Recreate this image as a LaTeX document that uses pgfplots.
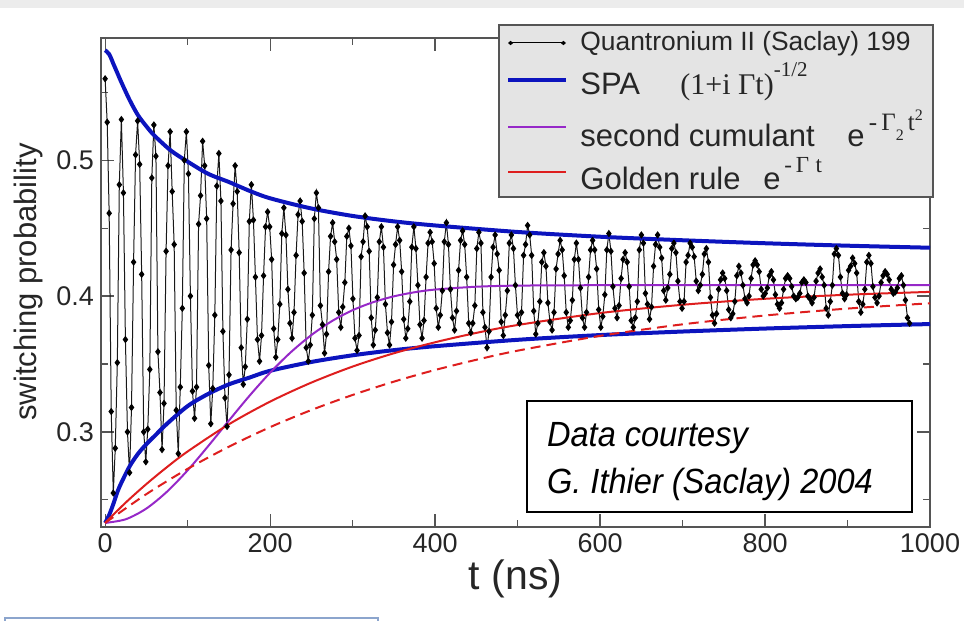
\documentclass[border=0pt]{standalone}
\usepackage{fontspec}
\setmainfont{Liberation Sans}
\newfontfamily\serifL{Liberation Serif}
\newfontfamily\narrowit[FakeStretch=0.93]{Liberation Sans}
\usepackage{pgfplots}
\pgfplotsset{compat=1.18}
\usetikzlibrary{arrows.meta}
\definecolor{spablue}{RGB}{12,20,190}
\definecolor{cumpurple}{RGB}{150,40,200}
\definecolor{grred}{RGB}{222,30,30}
\definecolor{axgray}{RGB}{85,85,85}
\definecolor{leggray}{RGB}{228,228,228}
\definecolor{topgray}{RGB}{236,236,236}
\definecolor{frameblue}{RGB}{140,165,205}
\begin{document}
\begin{tikzpicture}
\useasboundingbox (0,0) rectangle (482pt,310.5pt);
\fill[topgray] (0,306.5pt) rectangle (482pt,310.5pt);
\begin{axis}[
  at={(50.5pt,47pt)}, anchor=south west,
  scale only axis, width=414.5pt, height=244.5pt,
  xmin=-5, xmax=1000, ymin=0.23, ymax=0.59,
  xtick={0,200,400,600,800,1000}, minor xtick={100,300,500,700,900},
  ytick={0.3,0.4,0.5}, minor ytick={0.25,0.35,0.45,0.55},
  axis line style={axgray, line width=0.7pt},
  tick style={axgray, line width=0.6pt},
  major tick length=6.5pt, minor tick length=3.5pt,
  tick align=inside,
  /pgf/number format/assume math mode=true,
  /pgf/number format/1000 sep={},
  ticklabel style={font=\fontsize{13.5}{15}\selectfont, text=black!85},
  every axis y label/.style={at={(axis description cs:-0.0784,0.501)}, rotate=90, anchor=base, font=\fontsize{15.5}{18}\selectfont, text=black!85},
  every axis x label/.style={at={(axis description cs:0.5,-0.1288)}, anchor=base, font=\fontsize{20.5}{24}\selectfont, text=black!85},
  xlabel={t (ns)}, ylabel={switching probability},
]
\addplot[black!90, line width=0.5pt, mark=diamond*, mark size=1.45pt, mark options={solid, fill=black, draw=black}] table {
t p
0.0 0.560
2.5 0.528
4.9 0.461
7.4 0.315
9.9 0.255
12.3 0.288
14.8 0.351
17.2 0.482
19.7 0.530
22.2 0.476
24.6 0.368
27.1 0.300
29.6 0.270
32.0 0.318
34.5 0.425
36.9 0.504
39.4 0.529
41.9 0.497
44.3 0.416
46.8 0.300
49.3 0.278
51.7 0.302
54.2 0.346
56.6 0.487
59.1 0.526
61.6 0.503
64.0 0.359
66.5 0.329
69.0 0.287
71.4 0.321
73.9 0.433
76.3 0.496
78.8 0.521
81.3 0.477
83.7 0.438
86.2 0.316
88.7 0.284
91.1 0.333
93.6 0.391
96.0 0.500
98.5 0.521
101.0 0.490
103.4 0.400
105.9 0.330
108.4 0.310
110.8 0.333
113.3 0.453
115.7 0.474
118.2 0.514
120.7 0.496
123.1 0.457
125.6 0.349
128.1 0.306
130.5 0.332
133.0 0.386
135.4 0.481
137.9 0.505
140.4 0.470
142.8 0.374
145.3 0.325
147.8 0.304
150.2 0.342
152.7 0.434
155.1 0.468
157.6 0.496
160.1 0.477
162.5 0.432
165.0 0.362
167.5 0.335
169.9 0.348
172.4 0.383
174.8 0.455
177.3 0.482
179.8 0.456
182.2 0.414
184.7 0.368
187.2 0.352
189.6 0.371
192.1 0.415
194.5 0.451
197.0 0.462
199.5 0.451
201.9 0.427
204.4 0.376
206.9 0.355
209.3 0.368
211.8 0.394
214.2 0.446
216.7 0.465
219.2 0.445
221.6 0.405
224.1 0.380
226.6 0.369
229.0 0.388
231.5 0.430
233.9 0.460
236.4 0.470
238.9 0.455
241.3 0.417
243.8 0.362
246.3 0.352
248.7 0.364
251.2 0.386
253.6 0.457
256.1 0.476
258.6 0.465
261.0 0.393
263.5 0.379
266.0 0.358
268.4 0.372
270.9 0.418
273.3 0.444
275.8 0.454
278.3 0.440
280.7 0.427
283.2 0.388
285.7 0.377
288.1 0.392
290.6 0.410
293.0 0.444
295.5 0.450
298.0 0.437
300.4 0.398
302.9 0.369
305.4 0.360
307.8 0.371
310.3 0.429
312.7 0.440
315.2 0.459
317.7 0.451
320.1 0.433
322.6 0.384
325.1 0.364
327.5 0.375
330.0 0.399
332.4 0.440
334.9 0.451
337.4 0.436
339.8 0.394
342.3 0.373
344.8 0.364
347.2 0.381
349.7 0.423
352.1 0.438
354.6 0.451
357.1 0.441
359.5 0.418
362.0 0.383
364.5 0.369
366.9 0.376
369.4 0.396
371.8 0.436
374.3 0.451
376.8 0.435
379.2 0.408
381.7 0.379
384.2 0.369
386.6 0.382
389.1 0.414
391.5 0.439
394.0 0.447
396.5 0.440
398.9 0.424
401.4 0.391
403.9 0.377
406.3 0.386
408.8 0.404
411.2 0.440
413.7 0.454
416.2 0.438
418.6 0.405
421.1 0.384
423.6 0.375
426.0 0.389
428.5 0.419
430.9 0.441
433.4 0.448
435.9 0.438
438.3 0.414
440.8 0.380
443.3 0.373
445.7 0.380
448.2 0.393
450.6 0.435
453.1 0.447
455.6 0.439
458.0 0.388
460.5 0.377
463.0 0.362
465.4 0.374
467.9 0.414
470.3 0.436
472.8 0.445
475.3 0.431
477.7 0.419
480.2 0.381
482.7 0.371
485.1 0.386
487.6 0.404
490.0 0.439
492.5 0.445
495.0 0.435
497.4 0.408
499.9 0.386
502.4 0.380
504.8 0.388
507.3 0.430
509.7 0.438
512.2 0.452
514.7 0.445
517.1 0.430
519.6 0.389
522.1 0.372
524.5 0.380
527.0 0.396
529.4 0.425
531.9 0.432
534.4 0.422
536.8 0.395
539.3 0.381
541.8 0.375
544.2 0.388
546.7 0.420
549.1 0.431
551.6 0.441
554.1 0.434
556.5 0.415
559.0 0.388
561.5 0.377
563.9 0.382
566.4 0.397
568.8 0.427
571.3 0.439
573.8 0.427
576.2 0.406
578.7 0.384
581.2 0.377
583.6 0.388
586.1 0.414
588.5 0.434
591.0 0.441
593.5 0.434
595.9 0.420
598.4 0.390
600.9 0.377
603.3 0.385
605.8 0.401
608.2 0.434
610.7 0.446
613.2 0.433
615.6 0.407
618.1 0.391
620.6 0.384
623.0 0.393
625.5 0.413
627.9 0.427
630.4 0.432
632.9 0.425
635.3 0.407
637.8 0.382
640.3 0.377
642.7 0.384
645.2 0.396
647.6 0.434
650.1 0.445
652.6 0.439
655.0 0.402
657.5 0.394
660.0 0.383
662.4 0.392
664.9 0.422
667.3 0.438
669.8 0.445
672.3 0.436
674.7 0.428
677.2 0.404
679.7 0.397
682.1 0.406
684.6 0.416
687.0 0.435
689.5 0.439
692.0 0.432
694.4 0.411
696.9 0.396
699.4 0.391
701.8 0.396
704.3 0.425
706.7 0.430
709.2 0.439
711.7 0.436
714.1 0.429
716.6 0.411
719.1 0.404
721.5 0.408
724.0 0.416
726.4 0.431
728.9 0.435
731.4 0.425
733.8 0.399
736.3 0.386
738.8 0.380
741.2 0.387
743.7 0.405
746.1 0.412
748.6 0.417
751.1 0.413
753.5 0.404
756.0 0.390
758.5 0.384
760.9 0.387
763.4 0.396
765.8 0.415
768.3 0.422
770.8 0.417
773.2 0.408
775.7 0.398
778.2 0.395
780.6 0.400
783.1 0.413
785.5 0.423
788.0 0.426
790.5 0.423
792.9 0.418
795.4 0.405
797.9 0.400
800.3 0.402
802.8 0.406
805.2 0.415
807.7 0.418
810.2 0.412
812.6 0.401
815.1 0.394
817.6 0.391
820.0 0.395
822.5 0.405
824.9 0.413
827.4 0.415
829.9 0.413
832.3 0.407
834.8 0.400
837.3 0.398
839.7 0.399
842.2 0.402
844.6 0.410
847.1 0.412
849.6 0.410
852.0 0.400
854.5 0.398
857.0 0.395
859.4 0.399
861.9 0.411
864.3 0.417
866.8 0.420
869.3 0.414
871.7 0.408
874.2 0.391
876.7 0.386
879.1 0.396
881.6 0.408
884.0 0.431
886.5 0.435
889.0 0.430
891.4 0.414
893.9 0.402
896.4 0.398
898.8 0.401
901.3 0.419
903.7 0.422
906.2 0.428
908.7 0.424
911.1 0.417
913.6 0.396
916.1 0.388
918.5 0.394
921.0 0.405
923.4 0.425
925.9 0.430
928.4 0.424
930.8 0.407
933.3 0.399
935.8 0.395
938.2 0.400
940.7 0.410
943.1 0.415
945.6 0.418
948.1 0.416
950.5 0.412
953.0 0.405
955.5 0.402
957.9 0.403
960.4 0.406
962.8 0.413
965.3 0.415
967.8 0.408
970.2 0.397
972.7 0.384
975.2 0.380
};
% SPA upper
\addplot[spablue, line width=2pt, smooth] table {
t p
0 0.581
5 0.578
10 0.571
15 0.564
20 0.557
30 0.544
40 0.533
50 0.525
60 0.518
80 0.507
100 0.499
125 0.490
150 0.484
175 0.4775
200 0.472
250 0.4645
300 0.459
350 0.455
400 0.452
500 0.4472
600 0.4437
700 0.4411
800 0.4389
900 0.4371
1000 0.4356
};
% SPA lower
\addplot[spablue, line width=2pt, smooth] table {
t p
0 0.233
5 0.239
10 0.247
15 0.256
20 0.263
30 0.275
40 0.284
50 0.291
60 0.297
75 0.306
100 0.319
125 0.328
150 0.335
175 0.340
200 0.345
250 0.3515
300 0.3564
350 0.3602
400 0.3631
500 0.3678
600 0.3713
700 0.3739
800 0.3761
900 0.3779
1000 0.3794
};
% second cumulant
\addplot[cumpurple, line width=1pt, smooth] table {
t p
0 0.233
25 0.2357
50 0.2436
75 0.2560
100 0.2717
125 0.2896
150 0.3083
175 0.3266
200 0.3436
225 0.3586
250 0.3713
275 0.3816
300 0.3896
325 0.3955
350 0.3998
375 0.4028
400 0.4048
450 0.4069
500 0.4077
600 0.4080
800 0.4080
1000 0.4080
};
% golden rule solid
\addplot[grred, line width=1pt, smooth] table {
t p
0 0.233
25 0.248
50 0.2616
75 0.2741
100 0.2856
150 0.3056
200 0.3223
250 0.3363
300 0.3481
350 0.3579
400 0.3660
450 0.3729
500 0.3787
600 0.3875
700 0.3936
800 0.3980
900 0.4010
1000 0.4031
};
% golden rule dashed
\addplot[grred, line width=1pt, dash pattern=on 5pt off 3pt, smooth] table {
t p
0 0.233
50 0.2542
100 0.2728
150 0.2891
200 0.3035
250 0.3161
300 0.3272
350 0.3370
400 0.3456
450 0.3531
500 0.3598
600 0.3707
700 0.3792
800 0.3857
900 0.3908
1000 0.3947
};
\end{axis}
% legend
\draw[axgray, line width=0.6pt, fill=leggray] (249.5pt,212pt) rectangle (466.5pt,298pt);
\draw[black, line width=0.5pt, {Diamond[length=2.6pt,width=2.2pt]}-{Diamond[length=2.6pt,width=2.2pt]}] (254pt,289pt) -- (283pt,289pt);
\node[anchor=base west, inner sep=0pt, font=\fontsize{13.2}{15}\selectfont, text=black!85] at (290pt,285.15pt) {Quantronium II (Saclay) 199};
\draw[spablue, line width=2pt] (254pt,270.5pt) -- (283pt,270.5pt);
\node[anchor=base west, inner sep=0pt, font=\fontsize{15.5}{18}\selectfont, text=black!85] at (290pt,263pt) {SPA};
\node[anchor=base west, inner sep=0pt, text=black!85] at (340pt,263pt) {\serifL\fontsize{15}{18}\selectfont (1+i Γt)\raisebox{9pt}{\fontsize{10.5}{12}\selectfont -1/2}};
\draw[cumpurple, line width=1pt] (254pt,247pt) -- (283pt,247pt);
\node[anchor=base west, inner sep=0pt, font=\fontsize{15.5}{18}\selectfont, text=black!85] at (290pt,237.15pt) {second cumulant};
\node[anchor=base west, inner sep=0pt, font=\fontsize{15.5}{18}\selectfont, text=black!85] at (423.5pt,237.15pt) {e\raisebox{8.3pt}{\serifL\fontsize{12.5}{13}\selectfont \,-\,Γ\raisebox{-5pt}{\fontsize{8}{9}\selectfont 2}\,t\raisebox{5pt}{\fontsize{8}{9}\selectfont 2}}};
\draw[grred, line width=1pt] (254pt,224.5pt) -- (283pt,224.5pt);
\node[anchor=base west, inner sep=0pt, font=\fontsize{15.5}{18}\selectfont, text=black!85] at (290pt,215.5pt) {Golden rule};
\node[anchor=base west, inner sep=0pt, font=\fontsize{15.5}{18}\selectfont, text=black!85] at (381.5pt,215.5pt) {e\raisebox{8.5pt}{\serifL\fontsize{11.5}{12}\selectfont \,-\,Γ\;t}};
% annotation box
\draw[black, line width=0.8pt, fill=white] (263.5pt,54.5pt) rectangle (456pt,110pt);
\node[anchor=base west, inner sep=0pt, font=\narrowit\itshape\fontsize{17.5}{20}\selectfont] at (273.35pt,87.15pt) {Data courtesy};
\node[anchor=base west, inner sep=0pt, font=\narrowit\itshape\fontsize{17.5}{20}\selectfont] at (273.35pt,63.85pt) {G. Ithier (Saclay) 2004};
% frame line at bottom
\draw[frameblue, line width=0.9pt] (2.5pt,0pt) -- (2.5pt,1.3pt) -- (189pt,1.3pt) -- (189pt,0pt);
\end{tikzpicture}
\end{document}
